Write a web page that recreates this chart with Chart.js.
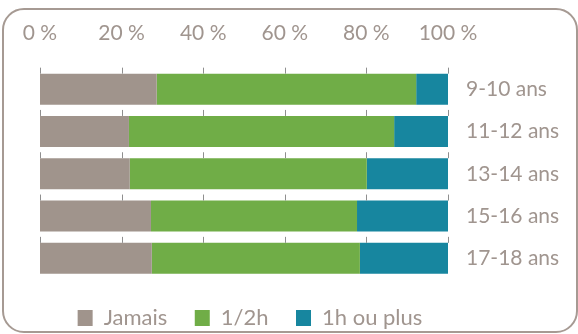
<!DOCTYPE html>
<html>
<head>
<meta charset="utf-8">
<script src="https://cdn.jsdelivr.net/npm/chart.js@4"></script>
<style>
  html, body { margin: 0; padding: 0; background: #ffffff; }
  #wrap { position: relative; width: 578px; height: 334px; }
</style>
</head>
<body>
<div id="wrap"><canvas id="c" width="578" height="334"></canvas></div>
<script>
// Age groups and share of each answer (percent of each group)
const categories = ['9-10 ans', '11-12 ans', '13-14 ans', '15-16 ans', '17-18 ans'];
const seriesNames = ['Jamais', '1/2h', '1h ou plus'];
const jamais = [28.6, 21.8, 22.0, 27.2, 27.4];
const demiHeure = [63.6, 65.0, 58.1, 50.5, 51.0];
const uneHeureOuPlus = [7.8, 13.2, 19.9, 22.3, 21.6];
const percentTicks = [0, 20, 40, 60, 80, 100];

const TEXT = '#a0958f';
const FONT = 'Lato, "Open Sans", sans-serif';

// Short gridline stubs just above each bar
const stubs = {
  id: 'stubs',
  afterDatasetsDraw(chart) {
    const ctx = chart.ctx;
    const xs = chart.scales.x;
    const meta = chart.getDatasetMeta(0);
    ctx.save();
    ctx.strokeStyle = '#8f8f8f';
    ctx.lineWidth = 1;
    meta.data.forEach(el => {
      const top = el.y - el.height / 2;
      percentTicks.forEach(v => {
        const x = Math.round(xs.getPixelForValue(v)) + 0.5;
        ctx.beginPath();
        ctx.moveTo(x, top - 6);
        ctx.lineTo(x, top);
        ctx.stroke();
      });
    });
    ctx.restore();
  }
};

// The category axis is kept narrow so the legend stays centred under the bars;
// let its labels use the free space up to the right edge.
const labelRoom = {
  id: 'labelRoom',
  afterLayout(chart) {
    chart.scales.y.right = chart.width;
  }
};

// Rounded frame around the whole chart
const frame = {
  id: 'frame',
  afterDraw(chart) {
    const ctx = chart.ctx;
    ctx.save();
    ctx.strokeStyle = '#a69a93';
    ctx.lineWidth = 2;
    ctx.beginPath();
    ctx.roundRect(3, 9, 574, 323, 21);
    ctx.stroke();
    ctx.restore();
  }
};

new Chart(document.getElementById('c'), {
  type: 'bar',
  data: {
    labels: categories,
    datasets: [
      { label: seriesNames[0], data: jamais, backgroundColor: '#a0948c' },
      { label: seriesNames[1], data: demiHeure, backgroundColor: '#70ad47' },
      { label: seriesNames[2], data: uneHeureOuPlus, backgroundColor: '#17869f' }
    ]
  },
  options: {
    indexAxis: 'y',
    responsive: false,
    animation: false,
    datasets: { bar: { barPercentage: 0.733, categoryPercentage: 1, borderWidth: 0 } },
    layout: { padding: { left: 40, right: 118, top: 0, bottom: -5 } },
    scales: {
      x: {
        position: 'top',
        stacked: true,
        min: 0,
        max: 100,
        afterBuildTicks(scale) { scale.ticks = percentTicks.map(v => ({ value: v })); },
        afterFit(scale) { scale.height = 68; },
        grid: { display: false, drawTicks: false },
        border: { display: false },
        ticks: {
          padding: 22,
          color: TEXT,
          font: { family: FONT, size: 21 },
          maxRotation: 0,
          callback: v => v + ' %'
        }
      },
      y: {
        position: 'right',
        stacked: true,
        afterFit(scale) { scale.width = 12; },
        grid: { display: false, drawTicks: false },
        border: { display: false },
        ticks: {
          padding: 18,
          color: TEXT,
          font: { family: FONT, size: 21 }
        }
      }
    },
    plugins: {
      tooltip: { enabled: false },
      legend: {
        position: 'bottom',
        labels: {
          boxWidth: 15,
          boxHeight: 16,
          padding: 27.5,
          color: TEXT,
          font: { family: FONT, size: 22 }
        }
      }
    }
  },
  plugins: [stubs, labelRoom, frame]
});
</script>
</body>
</html>
